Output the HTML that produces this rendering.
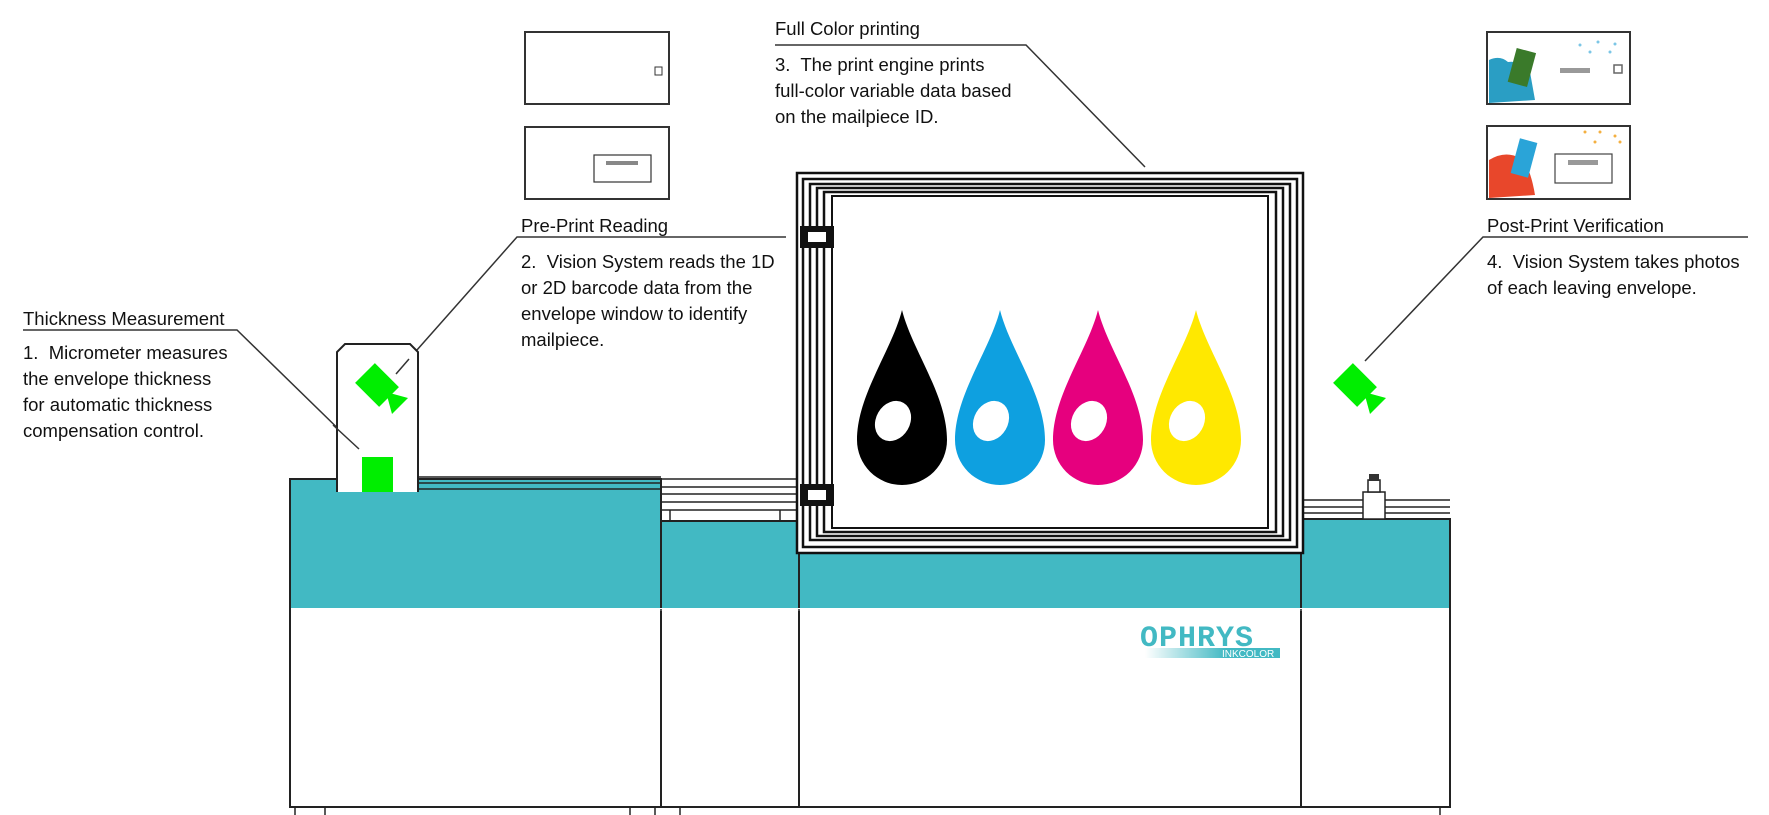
<!DOCTYPE html>
<html><head><meta charset="utf-8"><style>
html,body{margin:0;padding:0;background:#fff;width:1769px;height:815px;overflow:hidden}
svg{display:block}
text{font-family:"Liberation Sans Narrow","Liberation Sans",sans-serif;font-size:18.5px;fill:#111}
</style></head><body>
<svg width="1769" height="815" viewBox="0 0 1769 815" xmlns="http://www.w3.org/2000/svg">
<!-- envelopes left -->
<g fill="#fff" stroke="#333" stroke-width="2">
<rect x="525" y="32" width="144" height="72"/>
<rect x="525" y="127" width="144" height="72"/>
<rect x="655" y="67" width="7" height="8" stroke-width="1"/>
<rect x="594" y="155" width="57" height="27" stroke-width="1.2"/>
</g>
<rect x="606" y="161" width="32" height="4" fill="#888"/>
<!-- envelopes right -->
<g stroke="#333" stroke-width="2" fill="#fff">
<rect x="1487" y="32" width="143" height="72"/>
<rect x="1487" y="126" width="143" height="73"/>
</g>
<path d="M1489 60 Q1500 55 1508 62 Q1520 60 1530 72 L1535 100 L1489 103Z" fill="#2a9ec4"/>
<rect x="1512" y="50" width="20" height="35" fill="#3a7a2a" transform="rotate(15 1522 67)"/>
<rect x="1560" y="68" width="30" height="5" fill="#999"/>
<rect x="1614" y="65" width="8" height="8" fill="none" stroke="#666" stroke-width="1.5"/>
<path d="M1489 160 Q1505 150 1520 158 Q1530 165 1535 195 L1489 198Z" fill="#e8472b"/>
<rect x="1515" y="140" width="18" height="36" fill="#2aa4d8" transform="rotate(15 1524 158)"/>
<rect x="1555" y="154" width="57" height="29" fill="#fff" stroke="#444" stroke-width="1.2"/>
<rect x="1568" y="160" width="30" height="5" fill="#999"/>
<g fill="#f4b040"><circle cx="1585" cy="132" r="1.5"/><circle cx="1600" cy="132" r="1.5"/><circle cx="1615" cy="136" r="1.5"/><circle cx="1595" cy="142" r="1.5"/><circle cx="1620" cy="142" r="1.5"/></g>
<g fill="#7cc6e6"><circle cx="1580" cy="45" r="1.5"/><circle cx="1598" cy="42" r="1.5"/><circle cx="1615" cy="44" r="1.5"/><circle cx="1590" cy="52" r="1.5"/><circle cx="1610" cy="52" r="1.5"/></g>

<!-- labels -->
<g stroke="#333" stroke-width="1.5" fill="none">
<polyline points="775,45 1026,45 1145,167"/>
<polyline points="786,237 517,237 409,359"/>
<polyline points="23,330 237,330 359,449"/>
<polyline points="1748,237 1483,237 1365,361"/>
</g>
<text x="775" y="35">Full Color printing</text>
<text x="775" y="71">3.&#160; The print engine prints</text>
<text x="775" y="97">full-color variable data based</text>
<text x="775" y="123">on the mailpiece ID.</text>
<text x="521" y="232">Pre-Print Reading</text>
<text x="521" y="268">2.&#160; Vision System reads the 1D</text>
<text x="521" y="294">or 2D barcode data from the</text>
<text x="521" y="320">envelope window to identify</text>
<text x="521" y="346">mailpiece.</text>
<text x="23" y="325">Thickness Measurement</text>
<text x="23" y="359">1.&#160; Micrometer measures</text>
<text x="23" y="385">the envelope thickness</text>
<text x="23" y="411">for automatic thickness</text>
<text x="23" y="437">compensation control.</text>
<text x="1487" y="232">Post-Print Verification</text>
<text x="1487" y="268">4.&#160; Vision System takes photos</text>
<text x="1487" y="294">of each leaving envelope.</text>

<!-- machine modules -->
<g stroke="#222" stroke-width="2">
<rect x="290" y="479" width="371" height="130" fill="#42b9c3"/>
<rect x="290" y="609" width="371" height="198" fill="#fff"/>
<rect x="661" y="521" width="138" height="88" fill="#42b9c3"/>
<rect x="661" y="609" width="138" height="198" fill="#fff"/>
<rect x="799" y="553" width="502" height="56" fill="#42b9c3"/>
<rect x="799" y="609" width="502" height="198" fill="#fff"/>
<rect x="1301" y="519" width="149" height="90" fill="#42b9c3"/>
<rect x="1301" y="609" width="149" height="198" fill="#fff"/>
</g>
<rect x="291" y="608" width="1158" height="3" fill="#fff"/>
<g stroke="#222" stroke-width="1.5" fill="none">
<line x1="661" y1="609" x2="661" y2="807"/><line x1="799" y1="609" x2="799" y2="807"/><line x1="1301" y1="609" x2="1301" y2="807"/>
<line x1="290" y1="609" x2="290" y2="807"/><line x1="1450" y1="609" x2="1450" y2="807"/>
<line x1="417" y1="477" x2="661" y2="477"/><line x1="417" y1="483" x2="661" y2="483"/><line x1="417" y1="489" x2="661" y2="489"/>
<line x1="661" y1="479" x2="799" y2="479"/><line x1="661" y1="487" x2="799" y2="487"/><line x1="661" y1="494" x2="799" y2="494"/><line x1="661" y1="502" x2="799" y2="502"/><line x1="661" y1="510" x2="799" y2="510"/>
<line x1="670" y1="510" x2="670" y2="521"/><line x1="780" y1="510" x2="780" y2="521"/>
<line x1="1301" y1="500" x2="1450" y2="500"/><line x1="1301" y1="507" x2="1450" y2="507"/><line x1="1301" y1="513" x2="1450" y2="513"/>
<rect x="1363" y="492" width="22" height="27" fill="#fff"/>
<rect x="1368" y="480" width="12" height="12" fill="#fff"/>
<line x1="295" y1="807" x2="295" y2="815"/><line x1="325" y1="807" x2="325" y2="815"/><line x1="630" y1="807" x2="630" y2="815"/><line x1="655" y1="807" x2="655" y2="815"/><line x1="680" y1="807" x2="680" y2="815"/><line x1="1440" y1="807" x2="1440" y2="815"/>
</g>
<rect x="1369" y="474" width="10" height="7" fill="#333"/>

<!-- frame -->
<rect x="797" y="173" width="506" height="380" fill="#fff" stroke="#111" stroke-width="2.5"/>
<g stroke="#111" stroke-width="2.5" fill="none">
<rect x="803" y="179" width="494" height="368"/>
<rect x="810" y="184" width="480" height="356"/>
<rect x="817" y="188" width="466" height="348"/>
<rect x="824" y="192" width="452" height="340"/>
</g>
<rect x="832" y="196" width="436" height="332" fill="#fff" stroke="#111" stroke-width="2"/>
<rect x="800" y="226" width="34" height="22" fill="#111"/><rect x="808" y="232" width="18" height="10" fill="#fff"/>
<rect x="800" y="484" width="34" height="22" fill="#111"/><rect x="808" y="490" width="18" height="10" fill="#fff"/>

<!-- drops -->
<g>
<path d="M902 310 C912 350 947 395 947 440 A45 45 0 0 1 857 440 C857 395 892 350 902 310Z" fill="#000"/>
<ellipse cx="893" cy="421" rx="17" ry="21" transform="rotate(30 893 421)" fill="#fff"/>
<path d="M1000 310 C1010 350 1045 395 1045 440 A45 45 0 0 1 955 440 C955 395 990 350 1000 310Z" fill="#0ea0e0"/>
<ellipse cx="991" cy="421" rx="17" ry="21" transform="rotate(30 991 421)" fill="#fff"/>
<path d="M1098 310 C1108 350 1143 395 1143 440 A45 45 0 0 1 1053 440 C1053 395 1088 350 1098 310Z" fill="#e6007e"/>
<ellipse cx="1089" cy="421" rx="17" ry="21" transform="rotate(30 1089 421)" fill="#fff"/>
<path d="M1196 310 C1206 350 1241 395 1241 440 A45 45 0 0 1 1151 440 C1151 395 1186 350 1196 310Z" fill="#ffe800"/>
<ellipse cx="1187" cy="421" rx="17" ry="21" transform="rotate(30 1187 421)" fill="#fff"/>
</g>

<!-- camera housing -->
<path d="M337 492 L337 352 L345 344 L410 344 L418 352 L418 492" fill="#fff" stroke="#222" stroke-width="2"/>
<line x1="409" y1="359" x2="396" y2="374" stroke="#333" stroke-width="1.5"/>
<line x1="333" y1="425" x2="359" y2="449" stroke="#333" stroke-width="1.5"/>
<rect x="362" y="457" width="31" height="35" fill="#00ee00"/>
<g fill="#00ee00">
<rect x="363" y="368" width="28" height="34" transform="rotate(-45 377 385)"/>
<polygon points="386,392 408,398 392,414"/>
</g>
<g fill="#00ee00">
<rect x="1341" y="368" width="28" height="34" transform="rotate(-45 1355 385)"/>
<polygon points="1364,392 1386,398 1370,414"/>
</g>

<!-- logo -->
<defs><linearGradient id="g" x1="0" x2="1"><stop offset="0" stop-color="#42b9c3" stop-opacity="0"/><stop offset="0.6" stop-color="#42b9c3"/></linearGradient></defs>
<text x="1140" y="646" style="font-family:'Liberation Mono',monospace;font-size:30px;font-weight:bold;fill:#42b9c3;letter-spacing:1px">OPHRYS</text>
<rect x="1145" y="648" width="135" height="10" fill="url(#g)"/>
<text x="1222" y="657" style="font-size:10px;fill:#fff">INKCOLOR</text>
</svg>
</body></html>
